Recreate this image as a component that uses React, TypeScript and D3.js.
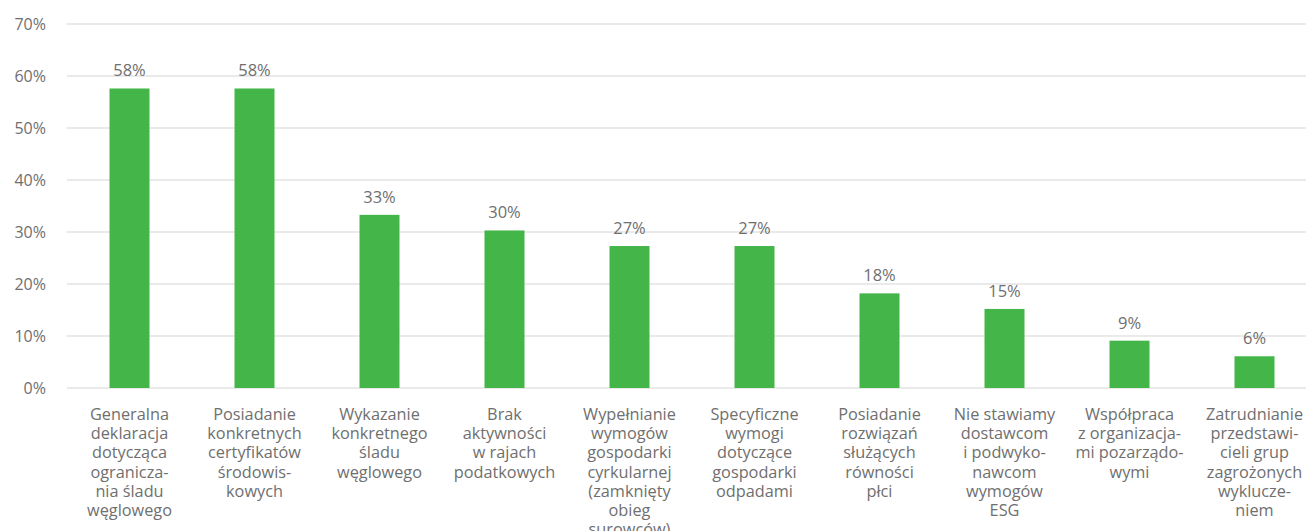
import React from 'react';
import * as d3 from 'd3';

const width = 1306;
const height = 531;
const margin = { top: 24, left: 67, bottom: 143 };

// category labels, already broken into lines as in the source
const categories: string[][] = [
    ['Generalna', 'deklaracja', 'dotycząca', 'ogranicza-', 'nia śladu', 'węglowego'],
    ['Posiadanie', 'konkretnych', 'certyfikatów', 'środowis-', 'kowych'],
    ['Wykazanie', 'konkretnego', 'śladu', 'węglowego'],
    ['Brak', 'aktywności', 'w rajach', 'podatkowych'],
    ['Wypełnianie', 'wymogów', 'gospodarki', 'cyrkularnej', '(zamknięty', 'obieg', 'surowców)'],
    ['Specyficzne', 'wymogi', 'dotyczące', 'gospodarki', 'odpadami'],
    ['Posiadanie', 'rozwiązań', 'służących', 'równości', 'płci'],
    ['Nie stawiamy', 'dostawcom', 'i podwyko-', 'nawcom', 'wymogów', 'ESG'],
    ['Współpraca', 'z organizacja-', 'mi pozarządo-', 'wymi'],
    ['Zatrudnianie', 'przedstawi-', 'cieli grup', 'zagrożonych', 'wyklucze-', 'niem'],
];
const values: number[] = [57.6, 57.6, 33.3, 30.3, 27.3, 27.3, 18.2, 15.2, 9.1, 6.1];
const ticks: number[] = [0, 10, 20, 30, 40, 50, 60, 70];

const font = '"Open Sans", sans-serif';
const textColor = '#6f6f6f';

const App = () => {
    const x = d3.scaleBand<number>()
        .domain(values.map((_, i) => i))
        .range([margin.left, margin.left + 1250])
        .paddingInner(0.68)
        .paddingOuter(0.34);
    const y = d3.scaleLinear()
        .domain([0, 70])
        .range([height - margin.bottom - 0, margin.top]);

    return (
        <svg width={width} height={height} style={{ position: 'absolute', left: 0, top: 0 }}>
            {ticks.map(t => (
                <g key={t}>
                    <line x1={margin.left} x2={width} y1={y(t)} y2={y(t)} stroke="#e3e3e3" strokeWidth={1.5} />
                    <text x={46} y={y(t)} dy="0.35em" textAnchor="end" fontFamily={font} fontSize={16} fill={textColor}>
                        {t}%
                    </text>
                </g>
            ))}
            {values.map((v, i) => {
                const cx = (x(i) as number) + x.bandwidth() / 2;
                return (
                    <g key={i}>
                        <rect x={x(i)} y={y(v)} width={x.bandwidth()} height={y(0) - y(v)} fill="#44b649" />
                        <text x={cx} y={y(v) - 12} textAnchor="middle" fontFamily={font} fontSize={16.5} fill={textColor}>
                            {Math.round(v)}%
                        </text>
                        <text textAnchor="middle" fontFamily={font} fontSize={16.3} fill={textColor}>
                            {categories[i].map((line, j) => (
                                <tspan key={j} x={cx} y={y(0) + 32 + j * 19.2}>{line}</tspan>
                            ))}
                        </text>
                    </g>
                );
            })}
        </svg>
    );
};

export default App;
